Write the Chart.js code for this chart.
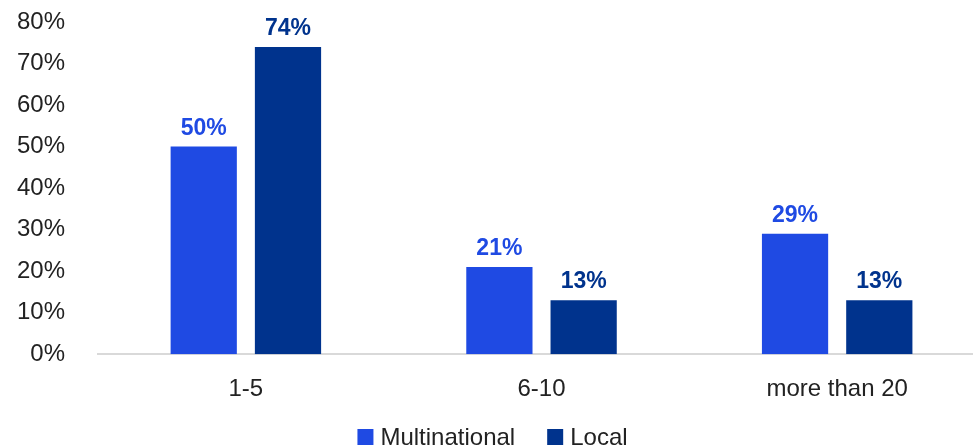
<!DOCTYPE html>
<html>
<head>
<meta charset="utf-8">
<script src="https://cdn.jsdelivr.net/npm/chart.js@4.4.1/dist/chart.umd.min.js"></script>
<style>
  html, body { margin: 0; padding: 0; background: #ffffff; overflow: hidden; }
  #wrap { width: 985px; height: 448px; position: relative; }
</style>
</head>
<body>
<div id="wrap"><canvas id="chart"></canvas></div>
<script>
// Share of companies by number of countries of operation
const categories = ['1-5', '6-10', 'more than 20'];
const multinational = [50, 21, 29];
const local = [74, 13, 13];
const seriesNames = ['Multinational', 'Local'];
const seriesColors = ['#1f4ae3', '#00338d'];

const FONT = '"Liberation Sans", Arial, sans-serif';

// Draws each bar's value in bold above it, in the bar's own colour
const valueLabels = {
  id: 'valueLabels',
  afterDatasetsDraw(chart) {
    const ctx = chart.ctx;
    ctx.save();
    ctx.font = 'bold 23px ' + FONT;
    ctx.textAlign = 'center';
    ctx.textBaseline = 'alphabetic';
    chart.data.datasets.forEach((ds, i) => {
      const meta = chart.getDatasetMeta(i);
      meta.data.forEach((bar, j) => {
        ctx.fillStyle = ds.backgroundColor;
        ctx.fillText(ds.data[j] + '%', bar.x, bar.y - 12);
      });
    });
    ctx.restore();
  }
};

// Bottom legend: square swatch + series name, centred under the chart
const bottomLegend = {
  id: 'bottomLegend',
  afterDraw(chart) {
    const ctx = chart.ctx;
    const box = 16, textGap = 7, itemGap = 32, cy = 437;
    ctx.save();
    ctx.font = '24px ' + FONT;
    ctx.textBaseline = 'middle';
    const widths = chart.data.datasets.map(ds => ctx.measureText(ds.label).width);
    const total = widths.reduce((s, w) => s + box + textGap + w, 0) + itemGap * (widths.length - 1);
    let x = (chart.width - total) / 2;
    chart.data.datasets.forEach((ds, i) => {
      ctx.fillStyle = ds.backgroundColor;
      ctx.fillRect(x, cy - box / 2, box, box);
      ctx.fillStyle = '#222222';
      ctx.fillText(ds.label, x + box + textGap, cy + 1);
      x += box + textGap + widths[i] + itemGap;
    });
    ctx.restore();
  }
};

new Chart(document.getElementById('chart'), {
  type: 'bar',
  data: {
    labels: categories,
    datasets: [
      { label: seriesNames[0], data: multinational, backgroundColor: seriesColors[0] },
      { label: seriesNames[1], data: local, backgroundColor: seriesColors[1] }
    ]
  },
  options: {
    responsive: true,
    maintainAspectRatio: false,
    animation: false,
    datasets: { bar: { categoryPercentage: 0.57, barPercentage: 0.786 } },
    layout: { padding: { left: 17, right: 0, top: 22, bottom: 23 } },
    scales: {
      x: {
        grid: { display: false, drawTicks: false },
        border: { display: true, color: '#d9d9d9', width: 2 },
        ticks: { color: '#222222', font: { family: FONT, size: 24 }, padding: 21 }
      },
      y: {
        min: 0,
        max: 80,
        grid: { display: false, drawTicks: true, tickLength: 33 },
        border: { display: false },
        ticks: {
          stepSize: 10,
          color: '#222222',
          font: { family: FONT, size: 24 },
          padding: 0,
          callback: v => v + '%'
        }
      }
    },
    plugins: {
      legend: { display: false },
      tooltip: { enabled: false }
    }
  },
  plugins: [valueLabels, bottomLegend]
});
</script>
</body>
</html>
